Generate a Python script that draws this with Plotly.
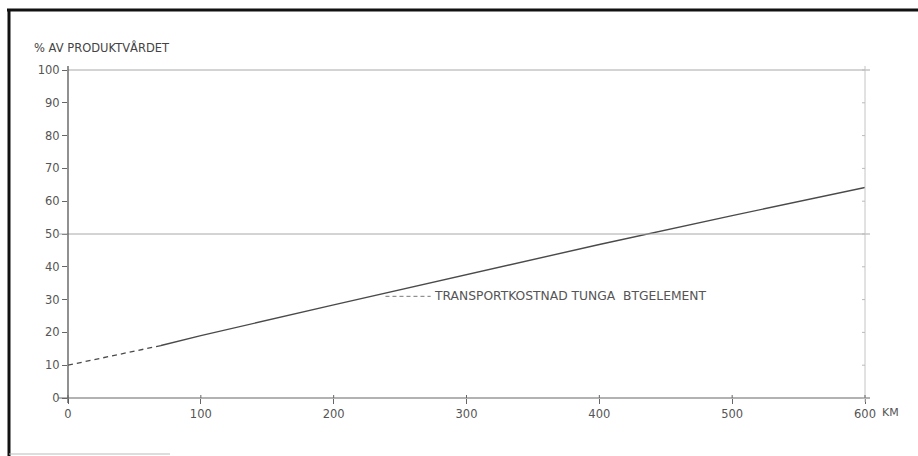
import plotly.graph_objects as go

# Transport cost of heavy concrete elements as share of product value
km_dashed = [0, 35, 70]
pct_dashed = [10, 12.9, 16]
km_solid = [70, 100, 200, 300, 400, 500, 600]
pct_solid = [16, 19, 28.4, 37.6, 46.8, 55.6, 64.2]

x_ticks = [0, 100, 200, 300, 400, 500, 600]
y_ticks = [0, 10, 20, 30, 40, 50, 60, 70, 80, 90, 100]
ref_levels = [50, 100]

label_text = "TRANSPORTKOSTNAD TUNGA  BTGELEMENT"
label_leader_km = [239, 273]
label_leader_pct = [31, 31]

W, H = 918, 456
L, R, T, B = 68, 53, 70, 58
X0, X1 = 0, 600
Y0, Y1 = 0, 100


def px(xv):
    return (xv - X0) / (X1 - X0)


def py(yv):
    return (yv - Y0) / (Y1 - Y0)


def pxp(pix):
    return (pix - L) / (W - L - R)


def pyp(pix):
    return (H - B - pix) / (H - T - B)


ink = "#4a4a4a"
faint = "#a8a8a8"

fig = go.Figure()

fig.add_trace(go.Scatter(x=km_dashed, y=pct_dashed, mode="lines",
                         line=dict(color=ink, width=1.3, dash="5px,4px"),
                         hoverinfo="skip", cliponaxis=False))
fig.add_trace(go.Scatter(x=km_solid, y=pct_solid, mode="lines",
                         line=dict(color=ink, width=1.4),
                         hoverinfo="skip", cliponaxis=False))
fig.add_trace(go.Scatter(x=label_leader_km, y=label_leader_pct, mode="lines",
                         line=dict(color="#777", width=1, dash="4px,3px"),
                         hoverinfo="skip"))

shapes = []
# reference levels
for lv in ref_levels:
    shapes.append(dict(type="line", xref="paper", yref="paper",
                       x0=pxp(58) if lv == 50 else px(0), x1=pxp(870),
                       y0=py(lv), y1=py(lv),
                       line=dict(color=faint, width=1)))
# x axis line
shapes.append(dict(type="line", xref="paper", yref="paper",
                   x0=pxp(58), x1=pxp(870), y0=py(0), y1=py(0),
                   line=dict(color="#666", width=1.2)))
# left axis line
shapes.append(dict(type="line", xref="paper", yref="paper",
                   x0=px(0), x1=px(0), y0=pyp(403), y1=pyp(66),
                   line=dict(color="#555", width=1.3)))
# right axis line with small ticks
shapes.append(dict(type="line", xref="paper", yref="paper",
                   x0=px(600), x1=px(600), y0=pyp(402), y1=pyp(66),
                   line=dict(color="#c4c4c4", width=1)))
for yv in y_ticks:
    shapes.append(dict(type="line", xref="paper", yref="paper",
                       x0=pxp(862), x1=pxp(865), y0=py(yv), y1=py(yv),
                       line=dict(color="#bbb", width=1)))
# x ticks cross slightly above the axis
for xv in x_ticks:
    shapes.append(dict(type="line", xref="paper", yref="paper",
                       x0=px(xv), x1=px(xv), y0=py(0), y1=pyp(H - B - 3),
                       line=dict(color="#666", width=1)))
# page frame
shapes.append(dict(type="line", xref="paper", yref="paper",
                   x0=pxp(7), x1=pxp(918), y0=pyp(10), y1=pyp(10),
                   line=dict(color="#111", width=3)))
shapes.append(dict(type="line", xref="paper", yref="paper",
                   x0=pxp(9), x1=pxp(9), y0=pyp(9), y1=pyp(456),
                   line=dict(color="#111", width=3)))
shapes.append(dict(type="line", xref="paper", yref="paper",
                   x0=pxp(9), x1=pxp(170), y0=pyp(454), y1=pyp(454),
                   line=dict(color="#bbb", width=1)))

annotations = [
    dict(text="% AV PRODUKTVÅRDET", xref="paper", yref="paper",
         x=pxp(32), y=pyp(48), xanchor="left", yanchor="middle",
         showarrow=False, font=dict(family="DejaVu Sans", size=11.5, color="#444")),
    dict(text=label_text, xref="x", yref="y",
         x=label_leader_km[1], y=label_leader_pct[1], xanchor="left", yanchor="middle",
         showarrow=False, xshift=1,
         font=dict(family="DejaVu Sans", size=12.3, color="#555")),
    dict(text="KM", xref="paper", yref="paper",
         x=pxp(880), y=pyp(412), xanchor="left", yanchor="middle",
         showarrow=False, font=dict(family="DejaVu Sans", size=11, color="#555")),
]

fig.update_layout(
    width=W, height=H,
    margin=dict(l=L, r=R, t=T, b=B, pad=0),
    paper_bgcolor="white", plot_bgcolor="white",
    showlegend=False,
    shapes=shapes,
    annotations=annotations,
    xaxis=dict(range=[X0, X1], tickvals=x_ticks, ticks="outside", ticklen=5,
               tickcolor="#666", showline=False, showgrid=False, zeroline=False,
               tickfont=dict(family="DejaVu Sans", size=11.5, color="#555")),
    yaxis=dict(range=[Y0, Y1], tickvals=y_ticks, ticks="outside", ticklen=5,
               tickcolor="#666", showline=False, showgrid=False, zeroline=False,
               tickfont=dict(family="DejaVu Sans", size=11.5, color="#555")),
)

fig.write_html("out.html")
